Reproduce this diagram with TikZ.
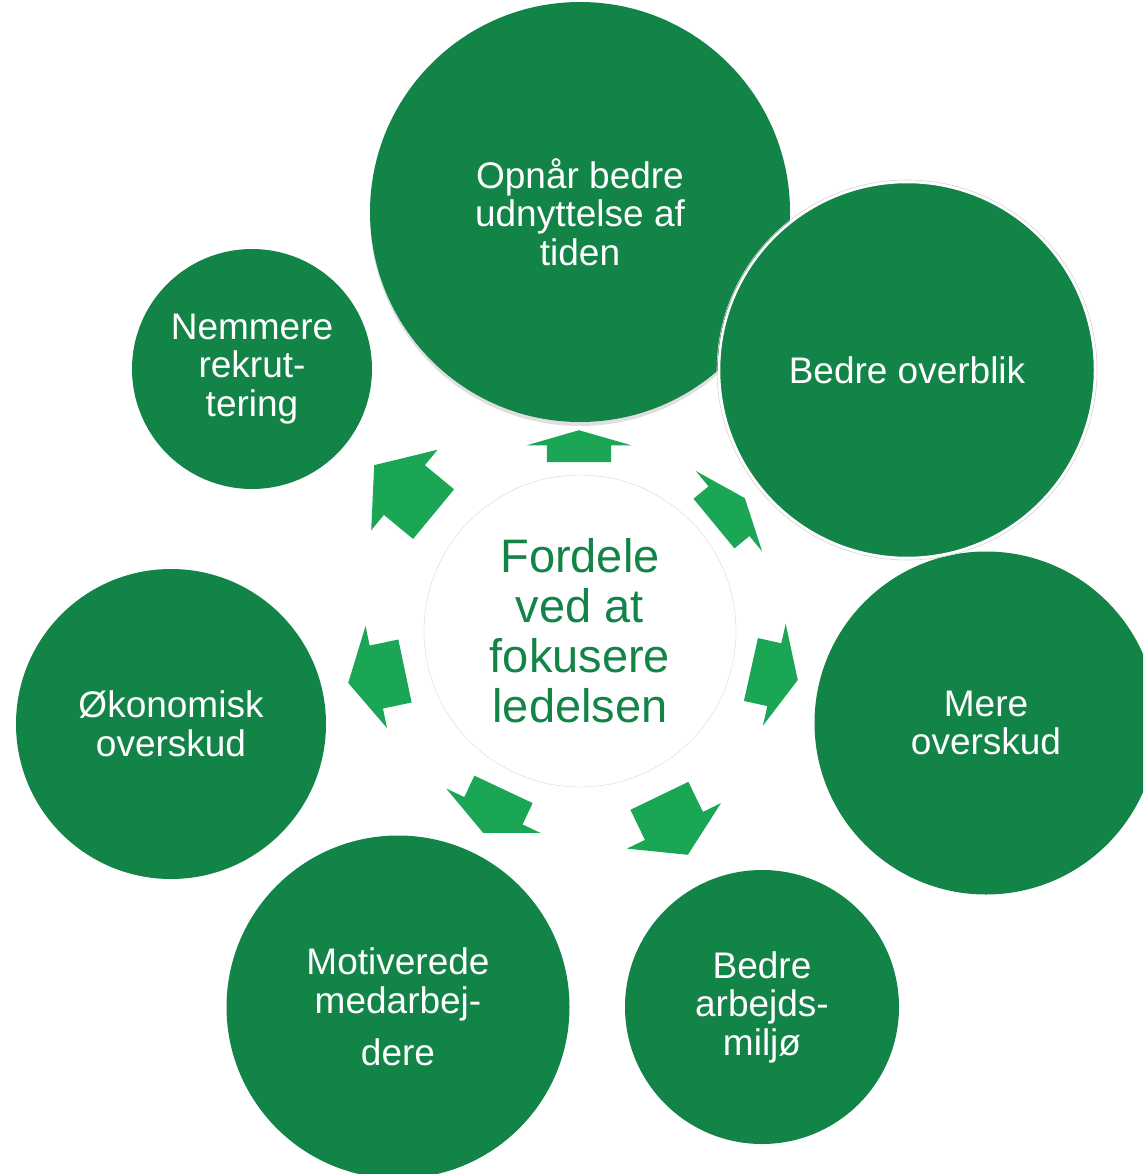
\documentclass[tikz,border=0pt]{standalone}
\usepackage{fontspec}
\setmainfont{Liberation Sans}
\usetikzlibrary{shapes.arrows,shadows}
\definecolor{moerkgroen}{RGB}{19,132,71}
\definecolor{lysgroen}{RGB}{26,166,85}

\begin{document}
\begin{tikzpicture}[x=1pt, y=-1pt,
    boble/.style={circle, fill=moerkgroen, text=white, inner sep=0pt, align=center, font=\fontsize{37}{38.5}\selectfont},
    pil/.style={single arrow, fill=lysgroen, inner sep=0pt, text height=32pt, text depth=32pt, text width=0pt, single arrow head extend=20pt, anchor=tip}]
%frame
    \clip (0,0) rectangle (1143,1174);
%bubbles
    \node[boble, minimum size=420pt, drop shadow={opacity=0.25, shadow xshift=0pt, shadow yshift=-4pt}] (tid) at (580,212) {Opnår bedre\\udnyttelse af\\tiden};
    \node[boble, minimum size=343pt] (mereoverskud) at (986,723) {Mere\\overskud};
    \draw[gray!35, line width=0.6pt] (907,370) circle[radius=190pt];
    \node[boble, minimum size=376pt, draw=white, line width=2.5pt] (overblik) at (907,370) {Bedre overblik};
    \node[boble, minimum size=274pt] (miljoe) at (762,1007) {Bedre\\arbejds-\\miljø};
    \node[boble, minimum size=343pt] (motiverede) at (398,1007) {Motiverede\\medarbej-\\[14pt]dere};
    \node[boble, minimum size=310pt] (oekonomisk) at (171,724) {Økonomisk\\overskud};
    \node[boble, minimum size=240pt] (rekruttering) at (252,369) {Nemmere\\rekrut-\\tering};
%centre
    \node[circle, draw=gray!30, fill=white, minimum size=312pt, inner sep=0pt, text=moerkgroen, align=center, font=\fontsize{47}{50}\selectfont] (fordele) at (580,631) {Fordele\\ved at\\fokusere\\ledelsen};
%arrows
    \node[pil, minimum height=32pt, single arrow tip angle=147.8, rotate=90] (pil1) at (579,430) {};
    \node[pil, minimum height=40pt, single arrow tip angle=137, rotate=39.5] (pil2) at (745,498) {};
    \node[pil, minimum height=48pt, single arrow tip angle=130.5, rotate=-12.6] (pil3) at (798,680) {};
    \node[pil, minimum height=65.5pt, single arrow tip angle=116.8, rotate=-64.2] (pil4) at (688,855) {};
    \node[pil, minimum height=48pt, single arrow tip angle=130, rotate=-115.2] (pil5) at (483,833) {};
    \node[pil, minimum height=58pt, single arrow tip angle=122.4, rotate=-168.1] (pil6) at (348,683) {};
    \node[pil, minimum height=77pt, single arrow tip angle=106.3, rotate=140.5] (pil7) at (374,465) {};
\end{tikzpicture}
\end{document}
